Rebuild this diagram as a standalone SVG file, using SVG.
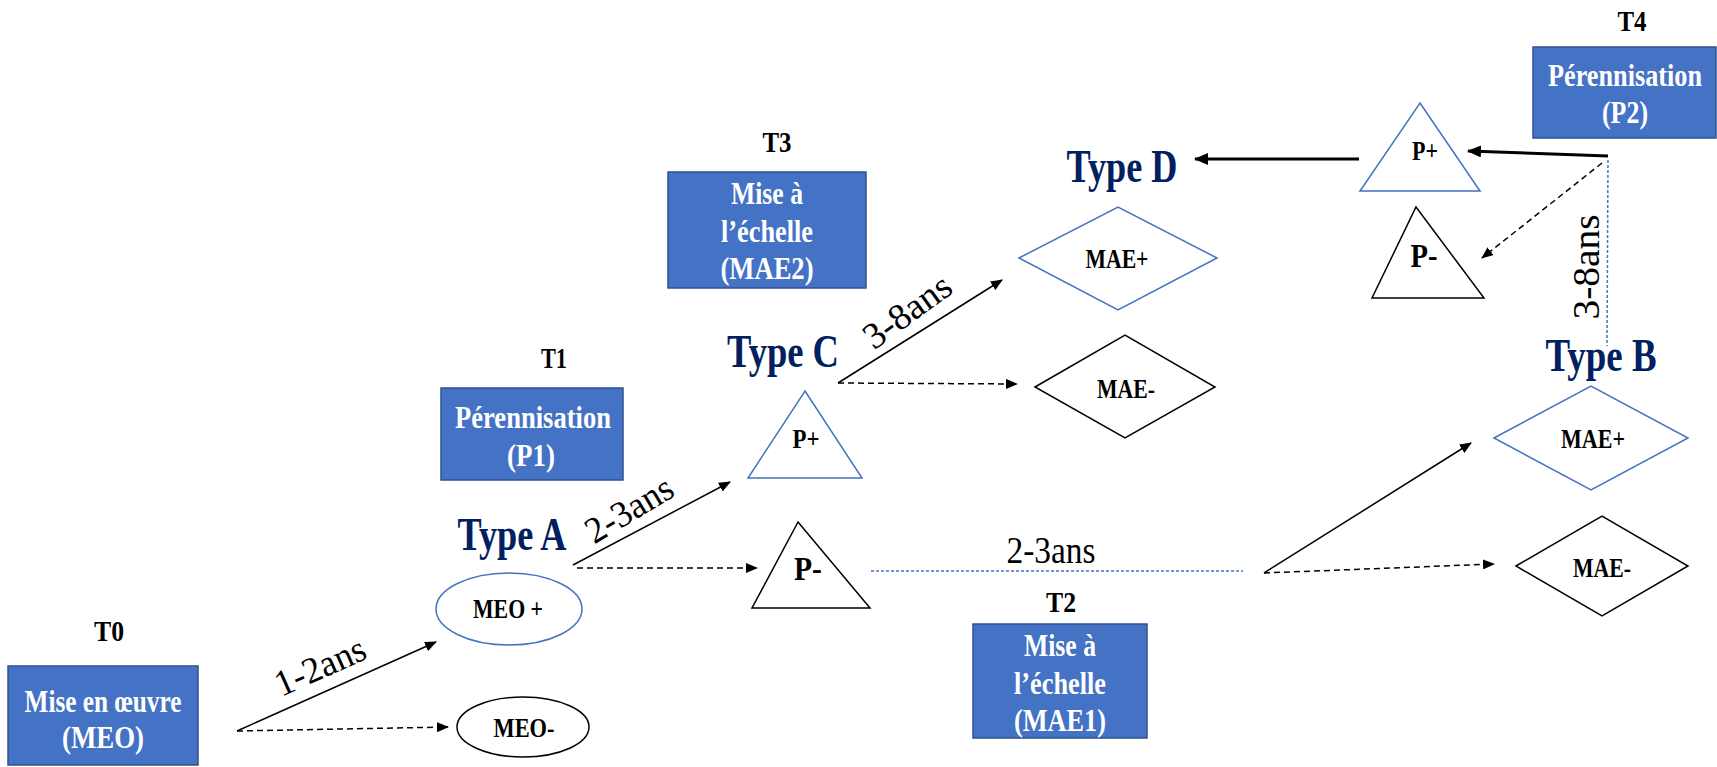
<svg xmlns="http://www.w3.org/2000/svg" width="1717" height="767" viewBox="0 0 1717 767">
  <defs>
    <marker id="arr" viewBox="0 0 12 10" refX="11" refY="5" markerWidth="12" markerHeight="10" markerUnits="userSpaceOnUse" orient="auto">
      <path d="M0,0 L12,5 L0,10 Z" fill="#000"/>
    </marker>
    <marker id="arrBig" viewBox="0 0 14 12" refX="13" refY="6" markerWidth="14" markerHeight="12" markerUnits="userSpaceOnUse" orient="auto">
      <path d="M0,0 L14,6 L0,12 Z" fill="#000"/>
    </marker>
    <style>
      .box { fill: #4472C4; stroke: #2F528F; stroke-width: 1.5; }
      .boxtxt { font-family: "Liberation Serif", "Times New Roman", serif; font-weight: bold; font-size: 32px; fill: #fff; text-anchor: middle; }
      .tlbl { font-family: "Liberation Serif", "Times New Roman", serif; font-weight: bold; font-size: 29px; fill: #000; text-anchor: middle; }
      .type { font-family: "Liberation Serif", "Times New Roman", serif; font-weight: bold; font-size: 46px; fill: #002060; text-anchor: middle; }
      .shp { font-family: "Liberation Serif", "Times New Roman", serif; font-weight: bold; font-size: 27px; fill: #000; text-anchor: middle; }
      .big { font-size: 34px; }
      .dur { font-family: "Liberation Serif", "Times New Roman", serif; font-size: 37px; fill: #000; text-anchor: middle; }
      .pos { fill: #fff; stroke: #4472C4; stroke-width: 1.5; }
      .neg { fill: #fff; stroke: #000; stroke-width: 1.5; }
      .solid { stroke: #000; stroke-width: 1.5; fill: none; }
      .thick { stroke: #000; stroke-width: 3; fill: none; }
      .dash { stroke: #000; stroke-width: 1.5; stroke-dasharray: 6 4; fill: none; }
      .dot { stroke: #4472C4; stroke-width: 1.5; stroke-dasharray: 3 2; fill: none; }
    </style>
  </defs>

  <!-- phase labels and boxes -->
  <g id="phase-t0">
    <text class="tlbl" x="109" y="641" textLength="30" lengthAdjust="spacingAndGlyphs">T0</text>
    <rect class="box" x="8" y="666" width="190" height="99"/>
    <text class="boxtxt" x="103" y="712" textLength="157" lengthAdjust="spacingAndGlyphs">Mise en œuvre</text>
    <text class="boxtxt" x="103" y="748" textLength="82" lengthAdjust="spacingAndGlyphs">(MEO)</text>
  </g>
  <g id="phase-t1">
    <text class="tlbl" x="554" y="368" textLength="26" lengthAdjust="spacingAndGlyphs">T1</text>
    <rect class="box" x="441" y="388" width="182" height="92"/>
    <text class="boxtxt" x="533" y="428" textLength="156" lengthAdjust="spacingAndGlyphs">Pérennisation</text>
    <text class="boxtxt" x="531" y="466" textLength="48" lengthAdjust="spacingAndGlyphs">(P1)</text>
  </g>
  <g id="phase-t2">
    <text class="tlbl" x="1061" y="612" textLength="30" lengthAdjust="spacingAndGlyphs">T2</text>
    <rect class="box" x="973" y="624" width="174" height="114"/>
    <text class="boxtxt" x="1060" y="656" textLength="72" lengthAdjust="spacingAndGlyphs">Mise à</text>
    <text class="boxtxt" x="1060" y="694" textLength="92" lengthAdjust="spacingAndGlyphs">l’échelle</text>
    <text class="boxtxt" x="1060" y="731" textLength="92" lengthAdjust="spacingAndGlyphs">(MAE1)</text>
  </g>
  <g id="phase-t3">
    <text class="tlbl" x="777" y="152" textLength="29" lengthAdjust="spacingAndGlyphs">T3</text>
    <rect class="box" x="668" y="172" width="198" height="116"/>
    <text class="boxtxt" x="767" y="204" textLength="72" lengthAdjust="spacingAndGlyphs">Mise à</text>
    <text class="boxtxt" x="767" y="242" textLength="92" lengthAdjust="spacingAndGlyphs">l’échelle</text>
    <text class="boxtxt" x="767" y="279" textLength="93" lengthAdjust="spacingAndGlyphs">(MAE2)</text>
  </g>
  <g id="phase-t4">
    <text class="tlbl" x="1632" y="31" textLength="29" lengthAdjust="spacingAndGlyphs">T4</text>
    <rect class="box" x="1533" y="47" width="183" height="91"/>
    <text class="boxtxt" x="1625" y="86" textLength="154" lengthAdjust="spacingAndGlyphs">Pérennisation</text>
    <text class="boxtxt" x="1625" y="123" textLength="46" lengthAdjust="spacingAndGlyphs">(P2)</text>
  </g>

  <!-- type headings -->
  <g id="type-a"><text class="type" x="512" y="550" textLength="109" lengthAdjust="spacingAndGlyphs">Type A</text></g>
  <g id="type-b"><text class="type" x="1601" y="371" textLength="111" lengthAdjust="spacingAndGlyphs">Type B</text></g>
  <g id="type-c"><text class="type" x="783" y="367" textLength="112" lengthAdjust="spacingAndGlyphs">Type C</text></g>
  <g id="type-d"><text class="type" x="1122" y="182" textLength="111" lengthAdjust="spacingAndGlyphs">Type D</text></g>

  <!-- outcome shapes -->
  <g id="meo-plus">
    <ellipse class="pos" cx="509" cy="609" rx="73" ry="36"/>
    <text class="shp" x="508" y="618" textLength="70" lengthAdjust="spacingAndGlyphs">MEO +</text>
  </g>
  <g id="meo-minus">
    <ellipse class="neg" cx="523" cy="727" rx="66" ry="30"/>
    <text class="shp" x="524" y="737" textLength="61" lengthAdjust="spacingAndGlyphs">MEO-</text>
  </g>
  <g id="c-p-plus">
    <polygon class="pos" points="805,391 862,478 748,478"/>
    <text class="shp" x="806" y="448" textLength="27" lengthAdjust="spacingAndGlyphs">P+</text>
  </g>
  <g id="c-p-minus">
    <polygon class="neg" points="798,522 870,608 752,608"/>
    <text class="shp big" x="808" y="580" textLength="28" lengthAdjust="spacingAndGlyphs">P-</text>
  </g>
  <g id="d-mae-plus">
    <polygon class="pos" points="1019,258 1118,207 1217,258 1118,310"/>
    <text class="shp" x="1117" y="268" textLength="63" lengthAdjust="spacingAndGlyphs">MAE+</text>
  </g>
  <g id="d-mae-minus">
    <polygon class="neg" points="1035,387 1125,335 1215,387 1125,438"/>
    <text class="shp" x="1126" y="398" textLength="58" lengthAdjust="spacingAndGlyphs">MAE-</text>
  </g>
  <g id="b-mae-plus">
    <polygon class="pos" points="1494,438 1591,386 1688,438 1591,490"/>
    <text class="shp" x="1593" y="448" textLength="64" lengthAdjust="spacingAndGlyphs">MAE+</text>
  </g>
  <g id="b-mae-minus">
    <polygon class="neg" points="1516,566 1602,516 1688,566 1602,616"/>
    <text class="shp" x="1602" y="577" textLength="58" lengthAdjust="spacingAndGlyphs">MAE-</text>
  </g>
  <g id="top-p-plus">
    <polygon class="pos" points="1420,103 1480,191 1360,191"/>
    <text class="shp" x="1425" y="160" textLength="26" lengthAdjust="spacingAndGlyphs">P+</text>
  </g>
  <g id="top-p-minus">
    <polygon class="neg" points="1416,207 1484,298 1372,298"/>
    <text class="shp big" x="1424" y="267" textLength="27" lengthAdjust="spacingAndGlyphs">P-</text>
  </g>

  <!-- connectors -->
  <g id="connectors">
    <line class="solid" x1="237" y1="731" x2="436" y2="642" marker-end="url(#arr)"/>
    <line class="dash" x1="237" y1="731" x2="448" y2="727" marker-end="url(#arr)"/>
    <line class="solid" x1="573" y1="565" x2="730" y2="482" marker-end="url(#arr)"/>
    <line class="dash" x1="577" y1="568" x2="757" y2="568" marker-end="url(#arr)"/>
    <line class="solid" x1="838" y1="383" x2="1002" y2="280" marker-end="url(#arr)"/>
    <line class="dash" x1="838" y1="383" x2="1017" y2="384" marker-end="url(#arr)"/>
    <line class="dot" x1="871" y1="571" x2="1243" y2="571"/>
    <line class="solid" x1="1264" y1="573" x2="1471" y2="443" marker-end="url(#arr)"/>
    <line class="dash" x1="1264" y1="573" x2="1494" y2="564" marker-end="url(#arr)"/>
    <line class="dot" x1="1608" y1="160" x2="1607" y2="346"/>
    <line class="thick" x1="1608" y1="156" x2="1468" y2="151" marker-end="url(#arrBig)"/>
    <line class="dash" x1="1602" y1="163" x2="1482" y2="258" marker-end="url(#arr)"/>
    <line class="thick" x1="1359" y1="159" x2="1195" y2="159" marker-end="url(#arrBig)"/>

    <text class="dur" transform="translate(320,666) rotate(-24)" dominant-baseline="central" textLength="96" lengthAdjust="spacingAndGlyphs">1-2ans</text>
    <text class="dur" transform="translate(629,509) rotate(-31)" dominant-baseline="central" textLength="96" lengthAdjust="spacingAndGlyphs">2-3ans</text>
    <text class="dur" transform="translate(907,311) rotate(-36)" dominant-baseline="central" textLength="100" lengthAdjust="spacingAndGlyphs">3-8ans</text>
    <text class="dur" x="1051" y="563" textLength="89" lengthAdjust="spacingAndGlyphs">2-3ans</text>
    <text class="dur" transform="translate(1586,267) rotate(-90)" dominant-baseline="central" textLength="105" lengthAdjust="spacingAndGlyphs">3-8ans</text>
  </g>
</svg>
